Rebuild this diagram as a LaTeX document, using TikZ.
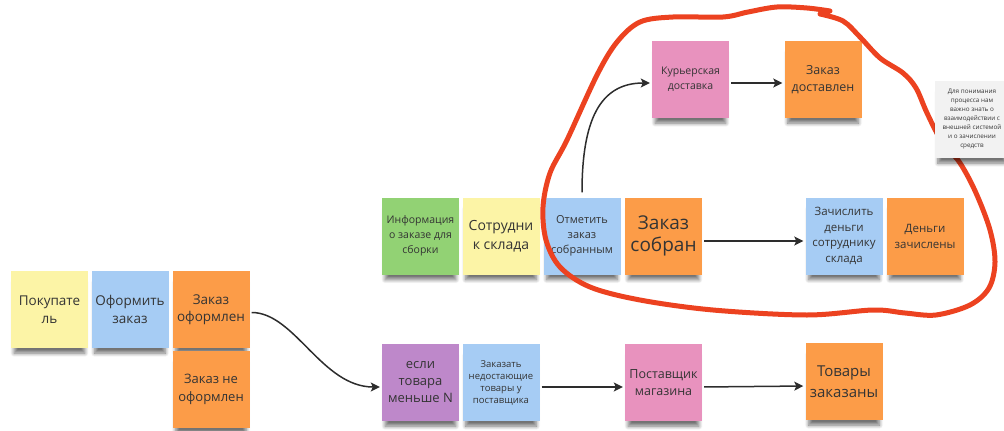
\documentclass[tikz,border=0pt]{standalone}
\usepackage{fontspec}
\setmainfont{Open Sans}
\usetikzlibrary{arrows.meta,shadows.blur}

\definecolor{stYellow}{RGB}{252,244,166}
\definecolor{stBlue}{RGB}{166,204,244}
\definecolor{stOrange}{RGB}{252,156,72}
\definecolor{stGreen}{RGB}{146,210,116}
\definecolor{stPink}{RGB}{232,146,190}
\definecolor{stPurple}{RGB}{190,136,202}
\definecolor{stNote}{RGB}{242,242,242}
\definecolor{inkText}{RGB}{52,52,52}
\definecolor{inkArrow}{RGB}{45,45,45}
\definecolor{loopRed}{RGB}{236,66,32}

\tikzset{
  sticky/.style={rectangle, minimum width=77pt, minimum height=77pt,
    inner sep=0pt, align=center, text=inkText,
    blur shadow={shadow xshift=0pt, shadow yshift=-9pt, shadow scale=0.92,
      shadow opacity=55, shadow blur radius=4pt, shadow blur steps=8}},
  fs/.style 2 args={font={\fontsize{#1}{#2}\selectfont}},
  flow/.style={draw=inkArrow, line width=1.5pt,
    -{Stealth[length=9pt,width=9pt,inset=2pt]}, shorten >=2pt, shorten <=2pt},
  loop/.style={draw=loopRed, line width=5pt, line cap=round, line join=round}
}

\begin{document}
\begin{tikzpicture}[x=1pt,y=-1pt]
\useasboundingbox (0,0) rectangle (1004,431);

% order placement row
\node[sticky, fill=stYellow, fs={13.5}{17.5}] (buyer)  at (49.5,309.5) {Покупате\\ль};
\node[sticky, fill=stBlue,   fs={13.5}{17.5}] (place)  at (130,309.5)  {Оформить\\заказ};
\node[sticky, fill=stOrange, fs={13.5}{17.5}] (placed) at (211,309.5)  {Заказ\\оформлен};
\node[sticky, fill=stOrange, fs={13}{17.5}]   (failed) at (211,389.5)  {Заказ не\\оформлен};

% assembly row
\node[sticky, fill=stGreen,  fs={10.5}{15}]   (info)   at (420.5,236)  {Информация\\о заказе для\\сборки};
\node[sticky, fill=stYellow, fs={14}{19}]     (worker) at (501,236)    {Сотрудни\\к склада};
\node[sticky, fill=stBlue,   fs={11}{15}]     (mark)   at (582,236)    {Отметить\\заказ\\собранным};
\node[sticky, fill=stOrange, fs={19}{22}]     (built)  at (663.5,236)  {Заказ\\собран};
\node[sticky, fill=stBlue,   fs={11.5}{15.5}] (credit) at (844,236)    {Зачислить\\деньги\\сотруднику\\склада};
\node[sticky, fill=stOrange, fs={11.5}{16}]   (paid)   at (925,236)    {Деньги\\зачислены};

% delivery row
\node[sticky, fill=stPink,   fs={10.5}{15}]   (courier)   at (690.5,79.5) {Курьерская\\доставка};
\node[sticky, fill=stOrange, fs={12.5}{17}]   (delivered) at (823,79.5)   {Заказ\\доставлен};

% restocking row
\node[sticky, fill=stPurple, fs={13}{17}]     (ifless)   at (420.5,382.5) {если\\товара\\меньше N};
\node[sticky, fill=stBlue,   fs={9.5}{12}]    (reorder)  at (501,382.5)   {Заказать\\недостающие\\товары у\\поставщика};
\node[sticky, fill=stPink,   fs={12.5}{17}]   (supplier) at (663.5,382.5) {Поставщик\\магазина};
\node[sticky, fill=stOrange, fs={15}{21}]     (ordered)  at (844,381.5)   {Товары\\заказаны};

% connectors
\draw[flow] ([yshift=-3pt]placed.east) .. controls +(45,0) and +(-60,0) .. ([yshift=-4.5pt]ifless.west);
\draw[flow] ([yshift=-4.5pt]reorder.east) -- ([yshift=-4.5pt]supplier.west);
\draw[flow] ([yshift=-4.5pt]supplier.east) -- ([yshift=-4.5pt]ordered.west);
\draw[flow] ([yshift=-5pt]built.east) -- ([yshift=-5pt]credit.west);
\draw[flow] ([yshift=-3.5pt]courier.east) -- ([yshift=-3.5pt]delivered.west);
\draw[flow, shorten <=5pt] (mark.north) .. controls (582,120) and (600,83) .. ([yshift=-3.5pt]courier.west);

% hand-drawn loop around the external part of the process
\draw[loop] plot[smooth, tension=0.55] coordinates {
  (820,14) (843,21) (860,37) (880,58) (903,73) (916,88) (927,113) (941,140)
  (960,163) (976,193) (990,230) (995,262) (989,288) (970,305) (936,315)
  (905,313) (873,310) (807,315) (713,310) (640,300) (590,287) (560,267)
  (546,240) (543,207) (550,173) (567,140) (597,75) (617,42) (640,22)
  (673,17) (723,17) (748,12) (777,7) (807,8) (830,11)};

% side note
\node[sticky, fill=stNote, minimum width=74pt, minimum height=77pt,
      fs={6.3}{9}] (note) at (972,119.5)
  {Для понимания\\процесса нам\\важно знать о\\взаимодействии с\\внешней системой\\и о зачислении\\средств};
\end{tikzpicture}
\end{document}
